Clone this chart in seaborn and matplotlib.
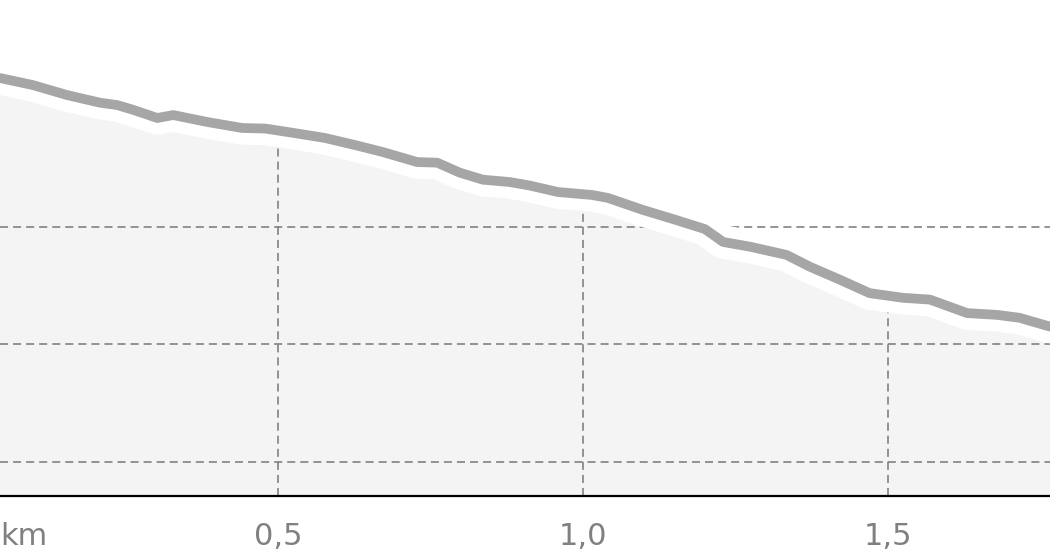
import matplotlib
matplotlib.use("Agg")
import matplotlib.pyplot as plt
import matplotlib.transforms as mtransforms
import matplotlib.patheffects as pe
import pandas as pd
import seaborn as sns

# ---- data ----
distance_km = [0.044, 0.098, 0.154, 0.208, 0.236, 0.262, 0.302, 0.328, 0.385, 0.441,
               0.479, 0.523, 0.577, 0.626, 0.672, 0.728, 0.761, 0.798, 0.836, 0.880,
               0.913, 0.959, 1.015, 1.041, 1.097, 1.151, 1.200, 1.230, 1.274, 1.334,
               1.372, 1.421, 1.470, 1.525, 1.569, 1.630, 1.679, 1.716, 1.766]
elevation_m = [362.6, 361.4, 359.7, 358.4, 358.0, 357.2, 355.8, 356.3, 355.1, 354.1,
               354.0, 353.3, 352.4, 351.2, 350.0, 348.3, 348.2, 346.5, 345.3, 344.9,
               344.3, 343.2, 342.7, 342.2, 340.2, 338.5, 336.9, 334.7, 333.9, 332.5,
               330.5, 328.3, 326.0, 325.2, 324.9, 322.6, 322.3, 321.8, 320.3]
grid_elevations = [300, 320, 340]
tick_positions = [0.5, 1.0, 1.5]
tick_labels = ["0,5", "1,0", "1,5"]
unit_label = "km"
x_range = (0.044, 1.766)
y_range = (294.2, 378.6)

sns.set_style("white")
plt.rcParams["font.family"] = ["DejaVu Sans"]
plt.rcParams["lines.scale_dashes"] = False

fig = plt.figure(figsize=(10.5, 5.6), dpi=100)
ax = fig.add_axes([0, 64 / 560, 1, 496 / 560])
df = pd.DataFrame({"km": distance_km, "elev": elevation_m})

fill = ax.fill_between(df["km"], y_range[0], df["elev"], color="#f4f4f4", lw=0, zorder=1)

dash = (0, (5.8, 3.6))
grid_color = "#777777"
for g in grid_elevations:
    ax.axhline(g, color=grid_color, lw=1.1, linestyle=dash, zorder=2)
for t in tick_positions:
    vl = ax.axvline(t, color=grid_color, lw=1.1, linestyle=dash, zorder=2)
    vl.set_clip_path(fill.get_paths()[0], fill.get_transform())

sns.lineplot(data=df, x="km", y="elev", ax=ax, color="#a6a6a6", lw=7, zorder=4, sort=False)
line = ax.lines[-1]
offset = mtransforms.ScaledTranslation(0, 0.16, fig.dpi_scale_trans)
line.set_transform(ax.transData + offset)
line.set_solid_capstyle("round")
line.set_solid_joinstyle("round")
line.set_path_effects([pe.Stroke(linewidth=24, foreground="white"), pe.Normal()])

ax.set_xlim(*x_range)
ax.set_ylim(*y_range)
ax.set_xlabel("")
ax.set_ylabel("")
ax.set_yticks([])
ax.set_xticks([x_range[0]] + tick_positions, [unit_label] + tick_labels)
ax.tick_params(axis="x", length=0, pad=19, labelsize=22, labelcolor="#808080")
ax.get_xticklabels()[0].set_horizontalalignment("left")
for s in ["top", "left", "right"]:
    ax.spines[s].set_visible(False)
ax.spines["bottom"].set_color("black")
ax.spines["bottom"].set_linewidth(1.6)
ax.spines["bottom"].set_zorder(5)
ax.set_facecolor("white")

fig.savefig("out.png", dpi=100)
